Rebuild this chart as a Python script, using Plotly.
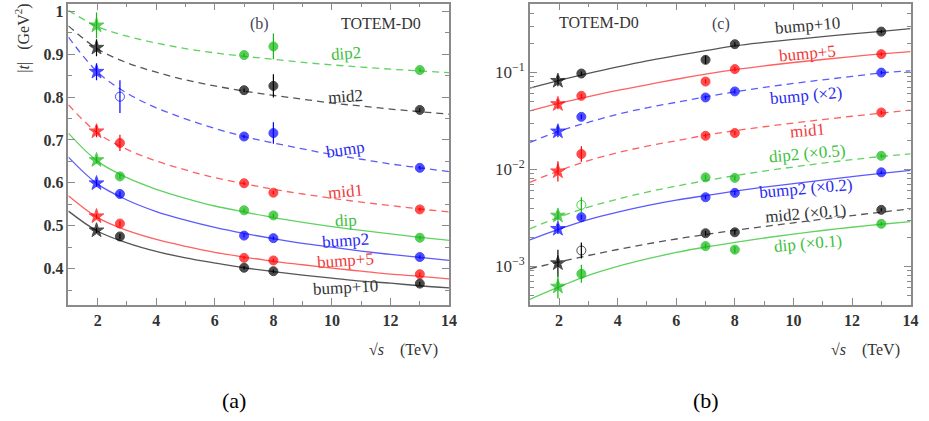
import plotly.graph_objects as go

W, H = 929, 421

# ---------------- data ----------------
X_FIT = [1, 2, 3, 4, 5, 6, 7, 8, 9, 10, 11, 12, 13, 14]
E_PTS = [1.96, 2.76, 7, 8, 13]
E_PTS4 = [1.96, 7, 8, 13]

# Left panel: |t| (GeV^2) of the dip/bump structures vs sqrt(s)
L_dip2_fit = [1.002, 0.964, 0.942, 0.926, 0.913, 0.903, 0.895, 0.888, 0.881, 0.875, 0.870, 0.865, 0.861, 0.857]
L_mid2_fit = [0.966, 0.912, 0.880, 0.858, 0.840, 0.826, 0.814, 0.804, 0.795, 0.786, 0.779, 0.772, 0.766, 0.760]
L_bump_fit = [0.940, 0.858, 0.809, 0.775, 0.749, 0.727, 0.708, 0.693, 0.679, 0.666, 0.655, 0.644, 0.635, 0.626]
L_mid1_fit = [0.782, 0.716, 0.678, 0.651, 0.630, 0.612, 0.598, 0.585, 0.574, 0.564, 0.555, 0.547, 0.539, 0.532]
L_dip_fit = [0.716, 0.650, 0.612, 0.585, 0.564, 0.546, 0.532, 0.519, 0.508, 0.498, 0.489, 0.481, 0.473, 0.466]
L_bump2_fit = [0.660, 0.597, 0.560, 0.533, 0.513, 0.496, 0.482, 0.470, 0.459, 0.450, 0.441, 0.433, 0.426, 0.419]
L_bump5_fit = [0.570, 0.519, 0.489, 0.468, 0.452, 0.438, 0.427, 0.417, 0.409, 0.401, 0.394, 0.387, 0.382, 0.376]
L_bump10_fit = [0.534, 0.487, 0.460, 0.440, 0.425, 0.413, 0.402, 0.393, 0.385, 0.378, 0.371, 0.366, 0.360, 0.355]

L_dip2_y = [0.967, 0.898, 0.918, 0.863]
L_dip2_err = [0.030, 0.004, 0.030, 0.004]
L_mid2_y = [0.915, 0.816, 0.826, 0.770]
L_mid2_err = [0.020, 0.004, 0.027, 0.004]
L_bump_y = [0.859, 0.801, 0.708, 0.716, 0.635]
L_bump_err = [0.020, 0.038, 0.004, 0.025, 0.004]
L_mid1_y = [0.720, 0.693, 0.599, 0.577, 0.538]
L_mid1_err = [0.014, 0.019, 0.004, 0.004, 0.004]
L_dip_y = [0.653, 0.615, 0.536, 0.524, 0.472]
L_dip_err = [0.008, 0.006, 0.004, 0.004, 0.004]
L_bump2_y = [0.599, 0.574, 0.477, 0.471, 0.427]
L_bump2_err = [0.008, 0.006, 0.004, 0.004, 0.004]
L_bump5_y = [0.522, 0.505, 0.425, 0.419, 0.387]
L_bump5_err = [0.006, 0.006, 0.004, 0.004, 0.004]
L_bump10_y = [0.489, 0.475, 0.402, 0.394, 0.365]
L_bump10_err = [0.006, 0.006, 0.004, 0.004, 0.004]

# Right panel: dsigma/dt at the structures (log scale), scaled as labelled
R_bump10_fit = [0.0688, 0.0827, 0.0977, 0.1139, 0.1313, 0.1485, 0.1672, 0.1873, 0.2034, 0.2184, 0.2334, 0.2488, 0.2646, 0.2820]
R_bump5_fit = [0.0402, 0.0480, 0.0562, 0.0651, 0.0744, 0.0849, 0.0958, 0.1066, 0.1166, 0.1264, 0.1357, 0.1454, 0.1549, 0.1636]
R_bump_fit = [0.01897, 0.02473, 0.03060, 0.03700, 0.04315, 0.04915, 0.05598, 0.06303, 0.06995, 0.07689, 0.08375, 0.09075, 0.09883, 0.1036]
R_mid1_fit = [0.00736, 0.00971, 0.01230, 0.01487, 0.01734, 0.01975, 0.02251, 0.02503, 0.02751, 0.03003, 0.03263, 0.03528, 0.03805, 0.04087]
R_dip2_fit = [0.002442, 0.003228, 0.004090, 0.004943, 0.005835, 0.006727, 0.007660, 0.008623, 0.009594, 0.01060, 0.01160, 0.01260, 0.01359, 0.01442]
R_bump2_fit = [0.001882, 0.002430, 0.003044, 0.003634, 0.004240, 0.004827, 0.005373, 0.005974, 0.006569, 0.007136, 0.007752, 0.008421, 0.009086, 0.009754]
R_mid2_fit = [0.000947, 0.001112, 0.001297, 0.001495, 0.001703, 0.001918, 0.002133, 0.002357, 0.002578, 0.002814, 0.003073, 0.003345, 0.003626, 0.003920]
R_dip_fit = [0.000458, 0.000615, 0.000808, 0.001000, 0.001194, 0.001393, 0.001586, 0.001773, 0.001964, 0.002154, 0.002346, 0.002536, 0.002723, 0.002902]

R_bump10_y = [0.0818, 0.0973, 0.1345, 0.195, 0.263]
R_bump10_f = [1.14, 1.05, 1.10, 1.05, 1.04]
R_bump5_y = [0.0471, 0.0573, 0.0804, 0.108, 0.154]
R_bump5_f = [1.13, 1.05, 1.05, 1.05, 1.04]
R_bump_y = [0.0246, 0.0348, 0.0551, 0.0636, 0.0995]
R_bump_f = [1.15, 1.06, 1.05, 1.05, 1.04]
R_mid1_y = [0.00955, 0.0144, 0.0222, 0.0237, 0.0386]
R_mid1_f = [1.27, 1.20, 1.05, 1.05, 1.04]
R_dip2_y = [0.00334, 0.00431, 0.00828, 0.00817, 0.0138]
R_dip2_f = [1.13, 1.20, 1.06, 1.06, 1.04]
R_bump2_y = [0.00244, 0.00322, 0.00516, 0.00573, 0.00933]
R_bump2_f = [1.13, 1.06, 1.05, 1.05, 1.04]
R_mid2_y = [0.00108, 0.00146, 0.00220, 0.00225, 0.00383]
R_mid2_f = [1.38, 1.21, 1.06, 1.06, 1.04]
R_dip_y = [0.00062, 0.00084, 0.00162, 0.00149, 0.00275]
R_dip_f = [1.33, 1.24, 1.06, 1.08, 1.04]

LEFT_YTICKS = [0.4, 0.5, 0.6, 0.7, 0.8, 0.9, 1.0]
LEFT_YTICKTEXT = ["0.4", "0.5", "0.6", "0.7", "0.8", "0.9", "1"]
X_TICKS = [2, 4, 6, 8, 10, 12, 14]
RIGHT_YTICKS = [0.001, 0.01, 0.1]
RIGHT_YTICKTEXT = ["10<sup>\u22123</sup>", "10<sup>\u22122</sup>", "10<sup>\u22121</sup>"]

# ---------------- styles ----------------
GREEN, RED, BLUE, BLACK = "#10b810", "#ff0000", "#0000ff", "#000000"
LINE_COL = {GREEN: "#5fd35f", RED: "#ff6060", BLUE: "#5a5aff", BLACK: "#555555"}
TXT_COL = {GREEN: "#3cbf3c", RED: "#f03a3a", BLUE: "#2a2af0", BLACK: "#333333"}
SERIF = "Liberation Serif, DejaVu Serif, serif"
DASH = "7px,5px"

fig = go.Figure()


def add_series(xa, ya, fit, xs, ys, eu, ed, color, dashed, open_idx=()):
    fig.add_trace(go.Scatter(
        x=X_FIT, y=fit, mode="lines", xaxis=xa, yaxis=ya, showlegend=False,
        line=dict(color=LINE_COL[color], width=1.3, shape="spline",
                  dash=DASH if dashed else "solid"),
        hoverinfo="skip"))
    symbols = []
    sizes = []
    for i, x in enumerate(xs):
        if x < 2.5:
            symbols.append("star")
            sizes.append(11)
        elif i in open_idx:
            symbols.append("circle-open")
            sizes.append(9)
        else:
            symbols.append("circle")
            sizes.append(9)
    fig.add_trace(go.Scatter(
        x=xs, y=ys, mode="markers", xaxis=xa, yaxis=ya, showlegend=False,
        marker=dict(symbol=symbols, size=sizes, color=color,
                    line=dict(color=color, width=1.0)),
        error_y=dict(type="data", array=eu, arrayminus=ed, color=color,
                     thickness=1.2, width=0, symmetric=False)))


# left panel
left = [
    (L_dip2_fit, E_PTS4, L_dip2_y, L_dip2_err, GREEN, True, ()),
    (L_mid2_fit, E_PTS4, L_mid2_y, L_mid2_err, BLACK, True, ()),
    (L_bump_fit, E_PTS, L_bump_y, L_bump_err, BLUE, True, (1,)),
    (L_mid1_fit, E_PTS, L_mid1_y, L_mid1_err, RED, True, ()),
    (L_dip_fit, E_PTS, L_dip_y, L_dip_err, GREEN, False, ()),
    (L_bump2_fit, E_PTS, L_bump2_y, L_bump2_err, BLUE, False, ()),
    (L_bump5_fit, E_PTS, L_bump5_y, L_bump5_err, RED, False, ()),
    (L_bump10_fit, E_PTS, L_bump10_y, L_bump10_err, BLACK, False, ()),
]
for fit, xs, ys, err, col, dashed, op in left:
    add_series("x", "y", fit, xs, ys, err, err, col, dashed, op)

# right panel
right = [
    (R_bump10_fit, R_bump10_y, R_bump10_f, BLACK, False, ()),
    (R_bump5_fit, R_bump5_y, R_bump5_f, RED, False, ()),
    (R_bump_fit, R_bump_y, R_bump_f, BLUE, True, ()),
    (R_mid1_fit, R_mid1_y, R_mid1_f, RED, True, ()),
    (R_dip2_fit, R_dip2_y, R_dip2_f, GREEN, True, (1,)),
    (R_bump2_fit, R_bump2_y, R_bump2_f, BLUE, False, ()),
    (R_mid2_fit, R_mid2_y, R_mid2_f, BLACK, True, (1,)),
    (R_dip_fit, R_dip_y, R_dip_f, GREEN, False, ()),
]
for fit, ys, fac, col, dashed, op in right:
    eu = [y * (f - 1) for y, f in zip(ys, fac)]
    ed = [y * (1 - 1 / f) for y, f in zip(ys, fac)]
    add_series("x2", "y2", fit, E_PTS, ys, eu, ed, col, dashed, op)

# ---------------- axes ----------------
AX_COL = "#8a8a8a"
TICKFONT = dict(family=SERIF, size=16, color="#333333", weight="bold")
common = dict(showline=True, linecolor=AX_COL, linewidth=1.6, mirror="allticks",
              ticks="inside", ticklen=7, tickwidth=1.3, tickcolor=AX_COL,
              showgrid=False, zeroline=False, tickfont=TICKFONT)

ydom = [1 - 305 / H, 1 - 2.7 / H]
fig.update_layout(
    xaxis=dict(domain=[69 / W, 453 / W], range=[1, 14], tickvals=X_TICKS, anchor="y",
               minor=dict(dtick=1, tick0=1, ticks="inside", ticklen=4, tickcolor=AX_COL), **common),
    yaxis=dict(domain=ydom, range=[0.3145, 1.0177], tickvals=LEFT_YTICKS, ticktext=LEFT_YTICKTEXT,
               anchor="x", minor=dict(dtick=0.05, tick0=0, ticks="inside", ticklen=4, tickcolor=AX_COL),
               **common),
    xaxis2=dict(domain=[534.4 / W, 918.5 / W], range=[1, 14], tickvals=X_TICKS, anchor="y2",
                minor=dict(dtick=1, tick0=1, ticks="inside", ticklen=4, tickcolor=AX_COL), **common),
    yaxis2=dict(domain=ydom, type="log", range=[-3.40, -0.2925], tickvals=RIGHT_YTICKS,
                ticktext=RIGHT_YTICKTEXT, anchor="x2",
                minor=dict(tickvals=[m * 10 ** e for e in (-4, -3, -2, -1) for m in range(2, 10)],
                           ticks="inside", ticklen=4, tickcolor=AX_COL),
                **{**common, "tickfont": dict(family=SERIF, size=17, color="#333333")}),
)

# ---------------- annotations ----------------
ann = []


def txt(px, py, text, color="#333333", size=15, angle=0, anchor="center"):
    ann.append(dict(x=px / W, y=1 - py / H, xref="paper", yref="paper", text=text,
                    showarrow=False, xanchor=anchor, yanchor="middle", textangle=angle,
                    font=dict(family=SERIF, size=size, color=color)))


# left panel labels
txt(262, 23, "(b)", "#444455", 16)
txt(384, 23, "TOTEM-D0", "#333333", 16)
txt(349, 53, "dip2", TXT_COL[GREEN], 17, -4)
txt(349, 96, "mid2", TXT_COL[BLACK], 17, -4)
txt(349, 149, "bump", TXT_COL[BLUE], 17, -8)
txt(348, 191, "mid1", TXT_COL[RED], 17, -5)
txt(349, 220, "dip", TXT_COL[GREEN], 17, -3)
txt(349, 240, "bump2", TXT_COL[BLUE], 17, -4)
txt(349, 260, "bump+5", TXT_COL[RED], 17, -4)
txt(349, 287, "bump+10", TXT_COL[BLACK], 17, -3)
txt(23, 37, "|<i>t</i>|   (GeV<sup>2</sup>)", "#333333", 16, -90)
txt(407, 350, "\u221a<i>s</i>    (TeV)", "#333333", 16)

# right panel labels
txt(604, 22, "TOTEM-D0", "#333333", 16)
txt(727, 23, "(c)", "#444455", 16)
txt(815, 25, "bump+10", TXT_COL[BLACK], 17, -5)
txt(815, 53, "bump+5", TXT_COL[RED], 17, -5)
txt(813, 95, "bump (\u00d72)", TXT_COL[BLUE], 17, -5)
txt(815, 130, "mid1", TXT_COL[RED], 17, -5)
txt(815, 153, "dip2 (\u00d70.5)", TXT_COL[GREEN], 17, -5)
txt(813, 188, "bump2 (\u00d70.2)", TXT_COL[BLUE], 17, -5)
txt(813, 213, "mid2 (\u00d70.1)", TXT_COL[BLACK], 17, -5)
txt(815, 243, "dip (\u00d70.1)", TXT_COL[GREEN], 17, -5)
txt(873, 350, "\u221a<i>s</i>    (TeV)", "#333333", 16)

# panel captions
txt(236, 400, "(a)", "#000000", 22)
txt(712, 400, "(b)", "#000000", 22)

fig.update_layout(width=W, height=H, margin=dict(l=0, r=0, t=0, b=0),
                  paper_bgcolor="white", plot_bgcolor="white", annotations=ann,
                  showlegend=False)

fig.write_html("out.html", config={"displayModeBar": False},
               post_script="document.body.style.margin='0';")
